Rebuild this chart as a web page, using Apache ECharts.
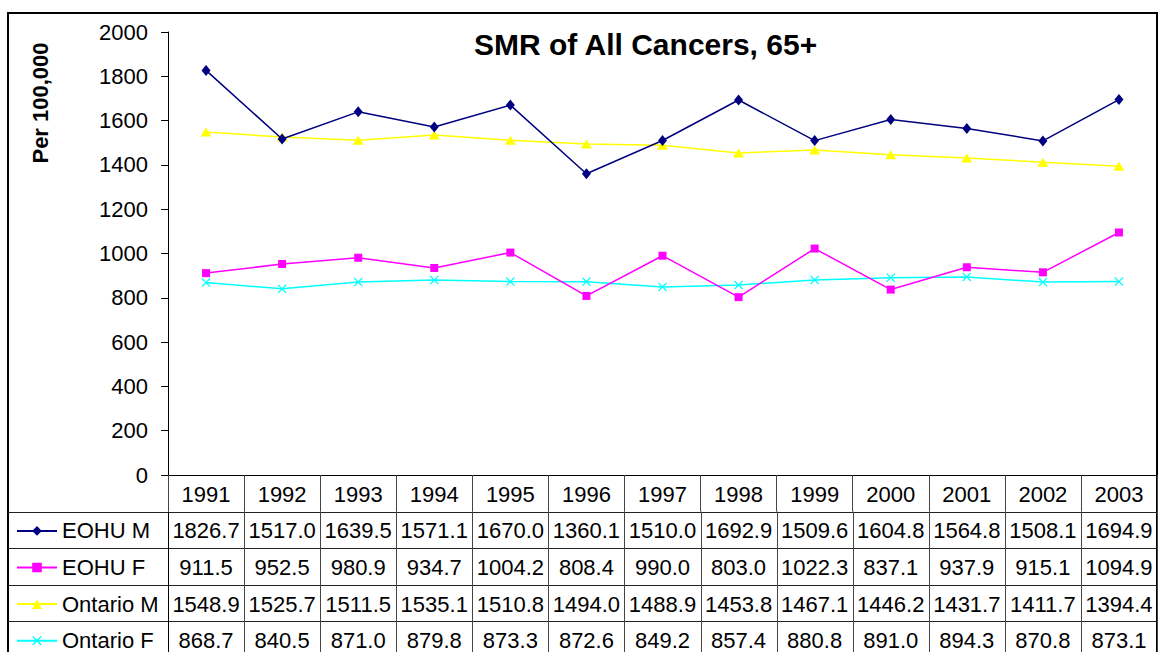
<!DOCTYPE html>
<html>
<head>
<meta charset="utf-8">
<title>SMR of All Cancers, 65+</title>
<script src="https://cdn.jsdelivr.net/npm/echarts@6/dist/echarts.min.js"></script>
<style>
  html, body { margin: 0; padding: 0; background: #fff; }
  #chart { width: 1158px; height: 652px; }
</style>
</head>
<body>
<div id="chart"></div>
<script>
const years = ['1991', '1992', '1993', '1994', '1995', '1996', '1997', '1998', '1999', '2000', '2001', '2002', '2003'];
const seriesNames = ['EOHU M', 'EOHU F', 'Ontario M', 'Ontario F'];
const eohuM = [1826.7, 1517.0, 1639.5, 1571.1, 1670.0, 1360.1, 1510.0, 1692.9, 1509.6, 1604.8, 1564.8, 1508.1, 1694.9];
const eohuF = [911.5, 952.5, 980.9, 934.7, 1004.2, 808.4, 990.0, 803.0, 1022.3, 837.1, 937.9, 915.1, 1094.9];
const ontarioM = [1548.9, 1525.7, 1511.5, 1535.1, 1510.8, 1494.0, 1488.9, 1453.8, 1467.1, 1446.2, 1431.7, 1411.7, 1394.4];
const ontarioF = [868.7, 840.5, 871.0, 879.8, 873.3, 872.6, 849.2, 857.4, 880.8, 891.0, 894.3, 870.8, 873.1];
const allValues = [eohuM, eohuF, ontarioM, ontarioF];

const FONT = '"Liberation Sans", Arial, sans-serif';
const colors = ['#000080', '#FF00FF', '#FFFF00', '#00FFFF'];
const crossPath = 'path://M0,1L1,0L5,4L9,0L10,1L6,5L10,9L9,10L5,6L1,10L0,9L4,5Z';
const symbols = ['diamond', 'rect', 'triangle', crossPath];
const symbolSizes = [[9, 11], 8, [11, 9], 9];

// table layout
const tableTop = 475;
const rowH = 36.6;
const frameLeft = 8;
const frameRight = 1157;

const chart = echarts.init(document.getElementById('chart'), null, { renderer: 'svg' });

const option = {
  animation: false,
  backgroundColor: '#fff',
  title: {
    text: 'SMR of All Cancers, 65+',
    left: 469,
    top: 24,
    textStyle: { fontFamily: FONT, fontSize: 30, fontWeight: 'bold', color: '#000' }
  },
  grid: { left: 168, right: 1158 - frameRight, top: 32, height: tableTop - 32, containLabel: false },
  legend: seriesNames.map(function (name, i) {
    return {
      data: [name],
      orient: 'vertical',
      left: 11,
      top: tableTop + rowH * (i + 1) + rowH / 2 - 15,
      itemWidth: 40,
      itemHeight: 12,
      itemGap: 6,
      selectedMode: false,
      textStyle: { fontFamily: FONT, fontSize: 22, color: '#000', lineHeight: 22 }
    };
  }),
  xAxis: {
    type: 'category',
    data: years,
    boundaryGap: true,
    axisLine: { lineStyle: { color: '#000', width: 1 } },
    axisTick: { show: true, interval: 0, length: rowH, lineStyle: { color: '#444' } },
    axisLabel: { margin: 8, fontFamily: FONT, fontSize: 22, color: '#000', interval: 0 },
    splitLine: { show: false }
  },
  yAxis: {
    type: 'value',
    min: 0,
    max: 2000,
    interval: 200,
    axisLine: { show: true, lineStyle: { color: '#000', width: 1 } },
    axisTick: { show: true, length: 7, lineStyle: { color: '#000' } },
    axisLabel: {
      margin: 20,
      fontFamily: FONT,
      fontSize: 22,
      color: '#000',
      formatter: function (v) { return String(v); }
    },
    splitLine: { show: false }
  },
  series: seriesNames.map(function (name, i) {
    return {
      name: name,
      type: 'line',
      data: allValues[i],
      symbol: symbols[i],
      symbolSize: symbolSizes[i],
      showAllSymbol: true,
      itemStyle: { color: colors[i] },
      lineStyle: { color: colors[i], width: 1.5 },
      z: 10 - i
    };
  })
};

chart.setOption(option);

// data table below the plot, columns aligned with the category axis
function buildTable() {
  const c0 = chart.convertToPixel({ xAxisIndex: 0 }, 0);
  const c1 = chart.convertToPixel({ xAxisIndex: 0 }, 1);
  const band = c1 - c0;
  const elements = [];
  const bottom = 700;

  // outer frame
  elements.push({
    type: 'rect',
    shape: { x: frameLeft, y: 13, width: frameRight - frameLeft, height: bottom },
    style: { fill: 'none', stroke: '#000', lineWidth: 2 },
    silent: true
  });

  // y axis title, placed high like the original
  elements.push({
    type: 'text',
    silent: true,
    x: 40,
    y: 103,
    rotation: Math.PI / 2,
    style: {
      text: 'Per 100,000',
      textAlign: 'center',
      textVerticalAlign: 'middle',
      fontFamily: FONT,
      fontSize: 22,
      fontWeight: 'bold',
      fill: '#000'
    }
  });

  // horizontal row lines
  for (let r = 1; r <= seriesNames.length; r++) {
    const y = Math.round(tableTop + rowH * r) + 0.5;
    elements.push({
      type: 'line',
      shape: { x1: frameLeft, y1: y, x2: frameRight, y2: y },
      style: { stroke: '#222', lineWidth: 1 },
      silent: true
    });
  }

  // vertical column lines
  for (let k = 0; k <= years.length; k++) {
    const x = Math.round(c0 - band / 2 + band * k) + 0.5;
    elements.push({
      type: 'line',
      shape: { x1: x, y1: tableTop + rowH, x2: x, y2: bottom },
      style: { stroke: k === 0 ? '#000' : '#444', lineWidth: 1 },
      silent: true
    });
  }

  // cell values
  allValues.forEach(function (vals, r) {
    vals.forEach(function (v, i) {
      const x = chart.convertToPixel({ xAxisIndex: 0 }, i);
      elements.push({
        type: 'text',
        silent: true,
        style: {
          text: v.toFixed(1),
          x: x,
          y: tableTop + rowH * (r + 1) + rowH / 2 + 1,
          textAlign: 'center',
          textVerticalAlign: 'middle',
          fontFamily: FONT,
          fontSize: 22,
          fill: '#000'
        }
      });
    });
  });

  chart.setOption({ graphic: { elements: elements } });
}

buildTable();
</script>
</body>
</html>
